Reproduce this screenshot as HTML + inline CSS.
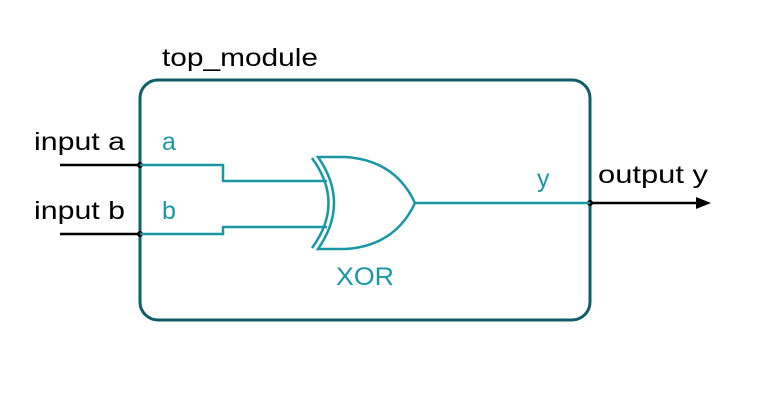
<!DOCTYPE html>
<html><head><style>body{margin:0;background:#fff}</style></head><body>
<svg width="760" height="400" xmlns="http://www.w3.org/2000/svg" font-family="Liberation Sans, sans-serif">
<rect width="760" height="400" fill="#fff"/>
<rect x="140" y="80" width="450" height="240" rx="18" fill="none" stroke="#0f5f6b" stroke-width="3"/>
<text x="162" y="66" font-size="25" fill="#000" textLength="156" lengthAdjust="spacingAndGlyphs">top_module</text>
<g stroke="#000" stroke-width="2.5" fill="none">
<line x1="60" y1="165" x2="140" y2="165"/>
<line x1="60" y1="234" x2="140" y2="234"/>
<line x1="590" y1="203" x2="698" y2="203"/>
</g>
<polygon points="696,197 711,203 696,209" fill="#000"/>
<circle cx="140" cy="165" r="3" fill="#000"/>
<circle cx="140" cy="234" r="3" fill="#000"/>
<circle cx="590" cy="203" r="3" fill="#000"/>
<text x="34" y="150" font-size="25" textLength="91" lengthAdjust="spacingAndGlyphs">input a</text>
<text x="34" y="219" font-size="25" textLength="91" lengthAdjust="spacingAndGlyphs">input b</text>
<text x="598" y="183" font-size="25" textLength="110" lengthAdjust="spacingAndGlyphs">output y</text>
<g stroke="#1a97a5" stroke-width="2.5" fill="none">
<polyline points="140,165 223,165 223,181 327,181"/>
<polyline points="140,234 223,234 223,227 327,227"/>
<path d="M312,158 Q345,203 312,248"/>
<path d="M318,157 L345,157 Q395,160 415,203 Q395,246 345,249 L318,249 Q350,203 318,157 Z"/>
<line x1="415" y1="203" x2="590" y2="203"/>
</g>
<g fill="#1a97a5" font-size="25">
<text x="162" y="150">a</text>
<text x="162" y="219">b</text>
<text x="537" y="187">y</text>
<text x="336" y="285" textLength="58" lengthAdjust="spacingAndGlyphs">XOR</text>
</g>
</svg>
</body></html>
